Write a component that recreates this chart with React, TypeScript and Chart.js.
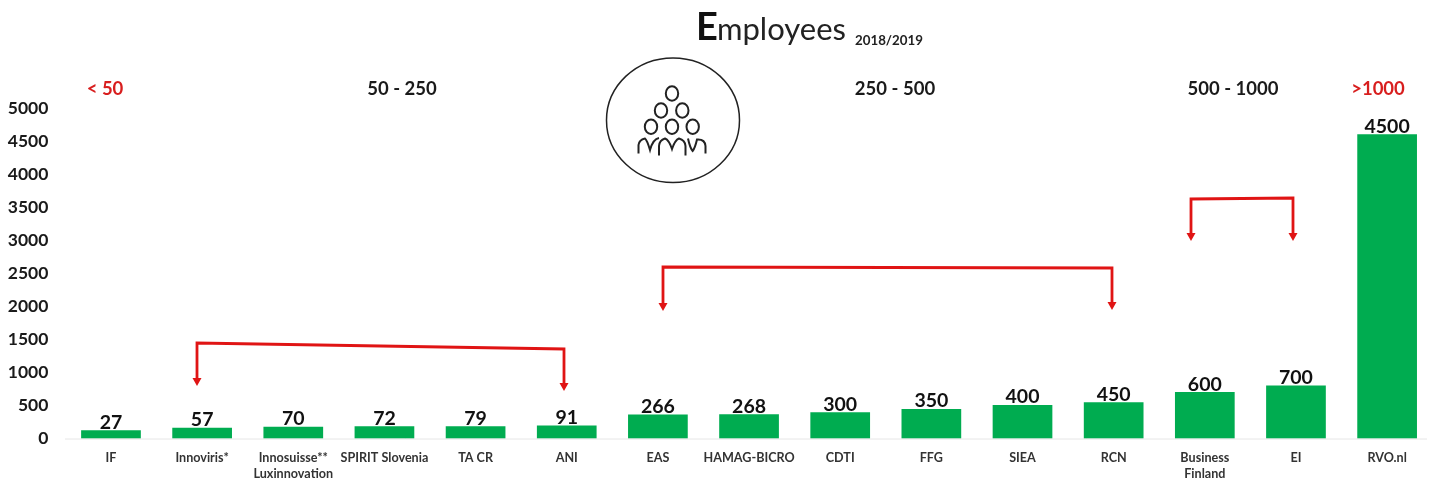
import React, { useEffect, useRef } from "react";
import { Chart, registerables } from "chart.js";

Chart.register(...registerables);

const categories: (string | string[])[] = [
  "IF", "Innoviris*", ["Innosuisse**", "Luxinnovation"], "SPIRIT Slovenia", "TA CR", "ANI",
  "EAS", "HAMAG-BICRO", "CDTI", "FFG", "SIEA", "RCN", ["Business", "Finland"], "EI", "RVO.nl",
];
const barHeights = [127, 167, 180, 190, 190, 200, 366, 368, 400, 450, 510, 550, 705, 805, 4605];
const valueLabels = ["27", "57", "70", "72", "79", "91", "266", "268", "300", "350", "400", "450", "600", "700", "4500"];
const groupLabels = ["< 50", "50 - 250", "250 - 500", "500 - 1000", ">1000"];
const groupColors = ["#d81e1e", "#1a1a1a", "#1a1a1a", "#1a1a1a", "#d81e1e"];
const groupCenters = [105, 402, 895, 1233, 1378];
const FONT = "Lato, 'Open Sans', sans-serif";

function bracket(ctx: CanvasRenderingContext2D, pts: number[][]) {
  ctx.save();
  ctx.strokeStyle = "#e01414";
  ctx.fillStyle = "#e01414";
  ctx.lineWidth = 2.8;
  ctx.beginPath();
  pts.forEach((p, i) => (i ? ctx.lineTo(p[0], p[1]) : ctx.moveTo(p[0], p[1])));
  ctx.stroke();
  [pts[0], pts[pts.length - 1]].forEach((p) => {
    ctx.beginPath();
    ctx.moveTo(p[0] - 4.5, p[1] - 1);
    ctx.lineTo(p[0] + 4.5, p[1] - 1);
    ctx.lineTo(p[0], p[1] + 7);
    ctx.closePath();
    ctx.fill();
  });
  ctx.restore();
}

function drawIcon(ctx: CanvasRenderingContext2D) {
  ctx.save();
  ctx.strokeStyle = "#222";
  ctx.lineWidth = 1.5;
  ctx.beginPath();
  ctx.ellipse(673, 120.2, 66.5, 62.3, 0, 0, Math.PI * 2);
  ctx.stroke();
  ctx.lineWidth = 2;
  [[672, 93.5], [661, 110.5], [682.3, 110.5], [651, 126.7], [672, 126.7], [692.7, 126.7]].forEach(([x, y]) => {
    ctx.beginPath();
    ctx.ellipse(x, y, 6.2, 7.2, 0, 0, Math.PI * 2);
    ctx.stroke();
  });
  const shoulders = [
    "M638.5 153.5 L638.5 145 Q639 140 645 138.5 Q647 140 650 150 Q653 139 659 138",
    "M659 155.5 L659 146 Q659.5 140 665 138.5 Q669 140 672 149 Q675 140 679 138.5 Q685 140 685.5 146 L685.5 155.5",
    "M688 138.5 Q690 148 692.7 151 Q695 148 697 139.5 Q705 139 705.5 146 L705.5 153.5",
  ];
  shoulders.forEach((d) => ctx.stroke(new Path2D(d)));
  ctx.restore();
}

const overlay = {
  id: "overlay",
  afterDatasetsDraw(chart: any) {
    const ctx: CanvasRenderingContext2D = chart.ctx;
    const meta = chart.getDatasetMeta(0);
    ctx.save();
    // axis line
    ctx.strokeStyle = "#e6e6e6";
    ctx.lineWidth = 1;
    ctx.beginPath();
    ctx.moveTo(65, 439);
    ctx.lineTo(1427, 439);
    ctx.stroke();
    // value labels
    ctx.fillStyle = "#111";
    ctx.font = `bold 19.5px ${FONT}`;
    ctx.textAlign = "center";
    ctx.textBaseline = "alphabetic";
    meta.data.forEach((bar: any, i: number) => {
      ctx.fillText(valueLabels[i], bar.x, bar.y - 1.5);
    });
    // group labels
    ctx.font = `bold 18.5px ${FONT}`;
    ctx.textBaseline = "middle";
    groupLabels.forEach((t, i) => {
      ctx.fillStyle = groupColors[i];
      ctx.fillText(t, groupCenters[i], 89.5);
    });
    // title
    ctx.textAlign = "left";
    ctx.textBaseline = "alphabetic";
    ctx.fillStyle = "#111";
    ctx.font = `bold 38px ${FONT}`;
    ctx.fillText("E", 696, 40);
    ctx.fillStyle = "#222";
    ctx.font = `400 31px ${FONT}`;
    ctx.fillText("mployees", 717, 40);
    ctx.font = `bold 13.3px ${FONT}`;
    ctx.fillText("2018/2019", 855, 45);
    ctx.restore();
    drawIcon(ctx);
    bracket(ctx, [[197, 379], [197, 343], [564, 349], [564, 384]]);
    bracket(ctx, [[663, 304], [663, 267], [1112, 268], [1112, 303]]);
    bracket(ctx, [[1191, 234], [1191, 199], [1293, 198], [1293, 234]]);
  },
};

export default function App() {
  const ref = useRef<HTMLCanvasElement>(null);
  useEffect(() => {
    document.body.style.margin = "0";
    const chart = new Chart(ref.current!, {
      type: "bar",
      data: {
        labels: categories as any,
        datasets: [{ data: barHeights, backgroundColor: "#00ac50", barPercentage: 0.655, categoryPercentage: 1 }],
      },
      plugins: [overlay],
      options: {
        responsive: false,
        animation: false,
        layout: { padding: { top: 108, right: 7.3, left: 0, bottom: 0 } },
        plugins: { legend: { display: false }, title: { display: false }, tooltip: { enabled: false } },
        scales: {
          x: {
            grid: { display: false, drawTicks: false },
            border: { display: false },
            afterFit: (s: any) => { s.height = 39.3; },
            ticks: {
              padding: 11,
              maxRotation: 0,
              autoSkip: false,
              color: "#333",
              font: { family: FONT, weight: "bold", size: 12.6, lineHeight: 1.3 },
            },
          },
          y: {
            min: 0,
            max: 5000,
            afterFit: (s: any) => { s.width = 65.4; },
            grid: { display: false, drawTicks: false },
            border: { display: false },
            ticks: {
              stepSize: 500,
              padding: 17,
              color: "#1a1a1a",
              callback: (v: any) => String(v),
              font: { family: FONT, weight: "bold", size: 17.5 },
            },
          },
        },
      },
    } as any);
    return () => chart.destroy();
  }, []);
  return (
    <div style={{ position: "absolute", left: 0, top: 0, width: 1431, height: 478, overflow: "hidden", background: "#fff" }}>
      <canvas ref={ref} width={1440} height={478} style={{ display: "block" }} />
    </div>
  );
}
